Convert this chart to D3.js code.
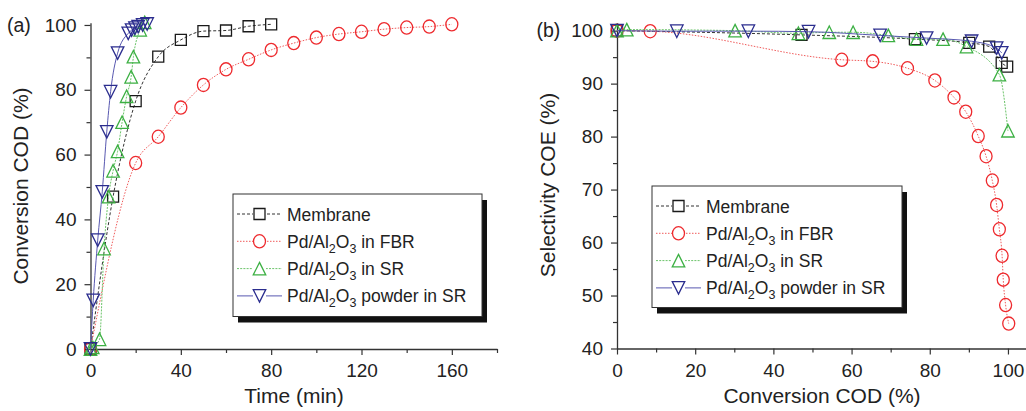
<!DOCTYPE html>
<html><head><meta charset="utf-8">
<script src="https://cdn.jsdelivr.net/npm/d3@7/dist/d3.min.js"></script>
<style>
body{margin:0;background:#fff}
svg{display:block}
text{font-family:"Liberation Sans",Arial,Helvetica,sans-serif;fill:#222}
</style></head><body>
<svg id="c" width="1026" height="411"></svg>
<script>
// ---------- Panel (a): conversion vs time ----------
const timeMembrane = [0,10,20,30,40,50,60,70,80];
const convMembrane = [0,47,76.5,90.2,95.4,98.1,98.3,99.6,100.2];
const timeFBR = [0,20,30,40,50,60,70,80,90,100,110,120,130,140,150,160];
const convFBR = [0,57.4,65.5,74.5,81.5,86.3,89.4,92.3,94.4,96.1,97.2,97.9,98.7,99.2,99.5,100.2];
const timeSR = [0,1,4,6,8,10,12,14,16,18,19,22,24];
const convSR = [0,0.5,3,31,47,55,61,70,78,84,90.2,98.5,100.8];
const timePowder = [0,1.2,3.2,5.2,7.2,8.9,12,16.7,18.2,19.7,21.1,23.1,25.1];
const convPowder = [0,15,33.6,48.5,67,79.4,91.3,97.4,98.4,99,99.5,100,100.3];

// ---------- Panel (b): selectivity vs conversion ----------
const codMembrane = [0,47.2,76.2,90.1,95.2,98.4,99.8];
const selMembrane = [100,99.2,98.4,97.7,97,93.9,93.2];
const codFBR = [0,8.5,57.5,65.4,74.3,81.3,86.2,89.2,92.4,94.4,96,97.1,97.8,98.5,98.8,99.4,100.2];
const selFBR = [100,99.9,94.5,94.2,92.9,90.6,87.4,84.7,80.1,76.3,71.7,67.1,62.5,57.5,53,48.2,44.7];
const codSR = [0,2.5,30.2,46.4,54.3,60.4,69.4,76.6,83.4,89.4,97.8,100];
const selSR = [100,100.2,100,99.5,99.7,99.7,99.1,98.4,98.4,97,91.7,81.1];
const codPowder = [0,15.3,33.6,49,67.3,79.2,90.7,97.1,98.4];
const selPowder = [100,99.9,99.9,99.8,99.1,98.6,98,96.7,95.8];

const seriesNames = ["Membrane","Pd/Al2O3 in FBR","Pd/Al2O3 in SR","Pd/Al2O3 powder in SR"];
const xTicksA = [0,40,80,120,160], xMinorA = [20,60,100,140,180];
const yTicksA = [0,20,40,60,80,100], yMinorA = [10,30,50,70,90];
const xTicksB = [0,20,40,60,80,100], xMinorB = [10,30,50,70,90];
const yTicksB = [40,50,60,70,80,90,100], yMinorB = [45,55,65,75,85,95];

const styles = [
  {marker:"square", color:"#1a1a1a", line:"#333", dash:"3,2"},
  {marker:"circle", color:"#ee2a2e", line:"#f05a5a", dash:"1.5,1.5"},
  {marker:"up", color:"#3cb043", line:"#6cc46a", dash:"2,1.2"},
  {marker:"down", color:"#2b2d8e", line:"#5858b0", dash:null}
];

const svg = d3.select("#c");

function markerPath(type, s){
  const h = s/2;
  if(type==="square") return `M${-h},${-h}H${h}V${h}H${-h}Z`;
  if(type==="up") return `M0,${-h}L${h},${h}L${-h},${h}Z`;
  if(type==="down") return `M0,${h}L${h},${-h}L${-h},${-h}Z`;
  return null;
}
function drawMarker(g, type, color, x, y){
  if(type==="circle"){
    g.append("ellipse").attr("cx",x).attr("cy",y).attr("rx",6).attr("ry",6.6)
      .attr("fill","none").attr("stroke",color).attr("stroke-width",1.3);
  } else {
    const s = type==="square"?11:12.5;
    g.append("path").attr("d",markerPath(type,s)).attr("transform",`translate(${x},${y})`)
      .attr("fill","none").attr("stroke",color).attr("stroke-width",1.3);
  }
}

function axes(g, x, y, xt, xm, yt, ym, y0, x0){
  const ax = g.append("g").attr("transform",`translate(0,${y0})`)
    .call(d3.axisBottom(x).tickValues(xt).tickFormat(d3.format("d")).tickSize(6).tickSizeOuter(0).tickPadding(9));
  g.append("g").attr("transform",`translate(0,${y0})`)
    .call(d3.axisBottom(x).tickValues(xm).tickFormat("").tickSize(4).tickSizeOuter(0))
    .select(".domain").remove();
  const ay = g.append("g").attr("transform",`translate(${x0},0)`)
    .call(d3.axisLeft(y).tickValues(yt).tickFormat(d3.format("d")).tickSize(6).tickSizeOuter(0).tickPadding(8));
  g.append("g").attr("transform",`translate(${x0},0)`)
    .call(d3.axisLeft(y).tickValues(ym).tickFormat("").tickSize(4).tickSizeOuter(0))
    .select(".domain").remove();
  g.selectAll(".domain").attr("stroke","#333").attr("stroke-width",1.3);
  g.selectAll(".tick line").attr("stroke","#333").attr("stroke-width",1.2);
  g.selectAll(".tick text").style("font-size","19px").attr("fill","#222")
    .style("font-family","'Liberation Sans',Arial,Helvetica,sans-serif");
}

function drawSeries(g, x, y, xs, ys, st){
  const pts = xs.map((v,i)=>[x(v), y(ys[i])]);
  g.append("path").attr("d", d3.line().curve(d3.curveMonotoneX)(pts))
    .attr("fill","none").attr("stroke",st.line).attr("stroke-width",1)
    .attr("stroke-dasharray", st.dash);
  pts.forEach(p=>drawMarker(g, st.marker, st.color, p[0], p[1]));
}

function legend(g, lx, ly, w, h){
  g.append("rect").attr("x",lx+5).attr("y",ly+6).attr("width",w).attr("height",h).attr("fill","#111");
  g.append("rect").attr("x",lx).attr("y",ly).attr("width",w).attr("height",h)
    .attr("fill","#fff").attr("stroke","#333").attr("stroke-width",1);
  seriesNames.forEach((name,i)=>{
    const st = styles[i];
    const cy = ly + 20 + i*27.3;
    g.append("line").attr("x1",lx+4).attr("x2",lx+49).attr("y1",cy).attr("y2",cy)
      .attr("stroke",st.line).attr("stroke-width",1).attr("stroke-dasharray",st.dash);
    const mg = g.append("g");
    if(st.marker==="circle"){
      mg.append("rect").attr("x",lx+20).attr("y",cy-7).attr("width",13).attr("height",14).attr("fill","#fff");
    } else {
      mg.append("rect").attr("x",lx+20).attr("y",cy-6).attr("width",13).attr("height",12).attr("fill","#fff");
    }
    drawMarker(mg, st.marker, st.color, lx+26.5, cy);
    const t = g.append("text").attr("x",lx+54).attr("y",cy+6.5).style("font-size","17.5px");
    const m = name.match(/^Pd\/Al2O3(.*)$/);
    if(m){
      t.append("tspan").text("Pd/Al");
      t.append("tspan").text("2").attr("dy",5).style("font-size","12.5px");
      t.append("tspan").text("O").attr("dy",-5);
      t.append("tspan").text("3").attr("dy",5).style("font-size","12.5px");
      t.append("tspan").text(m[1]).attr("dy",-5);
    } else t.text(name);
  });
}

// Panel a
const xA = d3.scaleLinear().domain([0,180]).range([90.5,497]);
const yA = d3.scaleLinear().domain([0,100.7]).range([349,22.7]);
const gA = svg.append("g");
axes(gA, xA, yA, xTicksA, xMinorA, yTicksA, yMinorA, 349, 90.5);
const dataA = [[timeMembrane,convMembrane],[timeFBR,convFBR],[timeSR,convSR],[timePowder,convPowder]];
dataA.forEach((d,i)=>drawSeries(gA, xA, yA, d[0], d[1], styles[i]));
legend(gA, 233, 194, 249, 122.5);
gA.append("text").attr("x",294).attr("y",403).attr("text-anchor","middle").style("font-size","21px").text("Time (min)");
gA.append("text").attr("transform","translate(28,186) rotate(-90)").attr("text-anchor","middle").style("font-size","21px").text("Conversion COD (%)");
gA.append("text").attr("x",7).attr("y",31.5).style("font-size","19.5px").text("(a)");

// Panel b
const xB = d3.scaleLinear().domain([0,105]).range([617,1027.5]);
const yB = d3.scaleLinear().domain([40,101.5]).range([348.5,22.7]);
const gB = svg.append("g");
axes(gB, xB, yB, xTicksB, xMinorB, yTicksB, yMinorB, 348.5, 617);
const dataB = [[codMembrane,selMembrane],[codFBR,selFBR],[codSR,selSR],[codPowder,selPowder]];
dataB.forEach((d,i)=>drawSeries(gB, xB, yB, d[0], d[1], styles[i]));
legend(gB, 652, 186, 250, 121.5);
gB.append("text").attr("x",822).attr("y",403).attr("text-anchor","middle").style("font-size","21px").text("Conversion COD (%)");
gB.append("text").attr("transform","translate(555,185) rotate(-90)").attr("text-anchor","middle").style("font-size","21px").text("Selectivity COE (%)");
gB.append("text").attr("x",536.5).attr("y",37).style("font-size","19.5px").text("(b)");
</script>
</body></html>
